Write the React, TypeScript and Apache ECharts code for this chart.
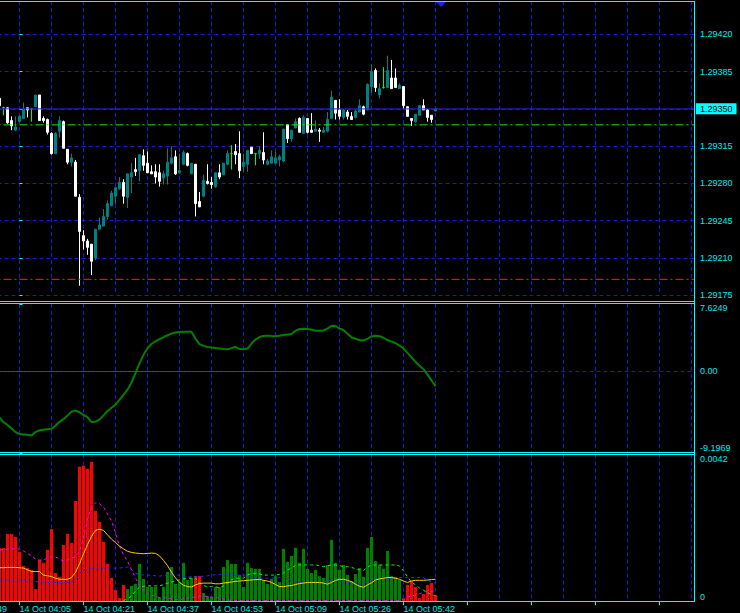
import React, { useEffect, useRef } from 'react';
import * as echarts from 'echarts';

// ---------- data (one value per M1 bar, oldest first) ----------
// x position of the first bar, counted in bars from the "14 Oct 04:05" tick
const FIRST_X = -5;

const OPEN = [
  1.29360, 1.29351, 1.29351, 1.29339, 1.29330, 1.29338, 1.29341, 1.29351, 1.29350, 1.29352,
  1.29363, 1.29341, 1.29340, 1.29327, 1.29308, 1.29329, 1.29338, 1.29312, 1.29300, 1.29300,
  1.29267, 1.29231, 1.29226, 1.29223, 1.29210, 1.29237, 1.29240, 1.29249, 1.29259, 1.29268,
  1.29275, 1.29281, 1.29267, 1.29286, 1.29293, 1.29292, 1.29306, 1.29299, 1.29291, 1.29291,
  1.29290, 1.29285, 1.29287, 1.29299, 1.29305, 1.29290, 1.29298, 1.29308, 1.29289, 1.29298,
  1.29263, 1.29268, 1.29282, 1.29281, 1.29277, 1.29290, 1.29288, 1.29298, 1.29308, 1.29310,
  1.29308, 1.29296, 1.29298, 1.29314, 1.29308, 1.29308, 1.29309, 1.29298, 1.29299, 1.29299,
  1.29302, 1.29301, 1.29335, 1.29322, 1.29332, 1.29341, 1.29327, 1.29341, 1.29330, 1.29329,
  1.29330, 1.29328, 1.29329, 1.29341, 1.29358, 1.29349, 1.29342, 1.29347, 1.29343, 1.29342,
  1.29347, 1.29352, 1.29349, 1.29371, 1.29386, 1.29363, 1.29370, 1.29370, 1.29379, 1.29379,
  1.29369, 1.29371, 1.29352, 1.29341, 1.29338, 1.29344, 1.29353, 1.29349, 1.29344, 1.29348,
];
const CLOSE = [
  1.29353, 1.29351, 1.29337, 1.29334, 1.29333, 1.29343, 1.29350, 1.29349, 1.29350, 1.29363,
  1.29339, 1.29339, 1.29328, 1.29308, 1.29327, 1.29339, 1.29313, 1.29300, 1.29304, 1.29268,
  1.29235, 1.29226, 1.29220, 1.29207, 1.29237, 1.29241, 1.29249, 1.29261, 1.29271, 1.29276,
  1.29281, 1.29268, 1.29289, 1.29290, 1.29291, 1.29307, 1.29297, 1.29290, 1.29289, 1.29286,
  1.29282, 1.29289, 1.29300, 1.29304, 1.29289, 1.29292, 1.29309, 1.29297, 1.29299, 1.29261,
  1.29258, 1.29283, 1.29280, 1.29279, 1.29290, 1.29286, 1.29299, 1.29308, 1.29308, 1.29307,
  1.29292, 1.29300, 1.29311, 1.29308, 1.29308, 1.29311, 1.29302, 1.29301, 1.29305, 1.29304,
  1.29305, 1.29331, 1.29322, 1.29330, 1.29338, 1.29328, 1.29342, 1.29328, 1.29328, 1.29331,
  1.29329, 1.29330, 1.29340, 1.29361, 1.29346, 1.29343, 1.29349, 1.29343, 1.29340, 1.29348,
  1.29353, 1.29345, 1.29373, 1.29385, 1.29370, 1.29369, 1.29370, 1.29386, 1.29369, 1.29370,
  1.29372, 1.29353, 1.29343, 1.29339, 1.29345, 1.29353, 1.29349, 1.29342, 1.29340, 1.29350,
];
const LOW = [
  1.29352, 1.29344, 1.29336, 1.29330, 1.29329, 1.29338, 1.29341, 1.29342, 1.29338, 1.29352,
  1.29339, 1.29337, 1.29326, 1.29307, 1.29308, 1.29323, 1.29313, 1.29298, 1.29296, 1.29268,
  1.29184, 1.29218, 1.29213, 1.29194, 1.29208, 1.29237, 1.29240, 1.29246, 1.29259, 1.29261,
  1.29274, 1.29261, 1.29257, 1.29271, 1.29287, 1.29282, 1.29292, 1.29290, 1.29289, 1.29280,
  1.29277, 1.29279, 1.29279, 1.29298, 1.29288, 1.29289, 1.29297, 1.29296, 1.29289, 1.29249,
  1.29258, 1.29267, 1.29279, 1.29275, 1.29276, 1.29284, 1.29288, 1.29297, 1.29293, 1.29298,
  1.29285, 1.29291, 1.29291, 1.29308, 1.29297, 1.29303, 1.29298, 1.29297, 1.29299, 1.29299,
  1.29296, 1.29300, 1.29318, 1.29319, 1.29332, 1.29328, 1.29327, 1.29327, 1.29328, 1.29329,
  1.29319, 1.29328, 1.29328, 1.29341, 1.29340, 1.29340, 1.29340, 1.29340, 1.29340, 1.29341,
  1.29347, 1.29344, 1.29349, 1.29365, 1.29366, 1.29360, 1.29369, 1.29370, 1.29369, 1.29370,
  1.29369, 1.29350, 1.29343, 1.29334, 1.29337, 1.29344, 1.29349, 1.29338, 1.29337, 1.29348,
];
const HIGH = [
  1.29361, 1.29352, 1.29351, 1.29343, 1.29343, 1.29344, 1.29356, 1.29351, 1.29351, 1.29363,
  1.29363, 1.29343, 1.29341, 1.29328, 1.29328, 1.29343, 1.29339, 1.29312, 1.29308, 1.29302,
  1.29270, 1.29236, 1.29228, 1.29223, 1.29237, 1.29248, 1.29256, 1.29264, 1.29273, 1.29276,
  1.29286, 1.29284, 1.29289, 1.29299, 1.29304, 1.29307, 1.29312, 1.29310, 1.29297, 1.29298,
  1.29298, 1.29292, 1.29313, 1.29315, 1.29311, 1.29308, 1.29311, 1.29309, 1.29299, 1.29298,
  1.29272, 1.29288, 1.29298, 1.29286, 1.29290, 1.29298, 1.29299, 1.29311, 1.29316, 1.29317,
  1.29329, 1.29308, 1.29311, 1.29314, 1.29308, 1.29315, 1.29328, 1.29303, 1.29311, 1.29310,
  1.29307, 1.29331, 1.29335, 1.29330, 1.29341, 1.29342, 1.29344, 1.29341, 1.29346, 1.29339,
  1.29332, 1.29333, 1.29347, 1.29367, 1.29358, 1.29359, 1.29349, 1.29349, 1.29347, 1.29349,
  1.29359, 1.29353, 1.29374, 1.29392, 1.29388, 1.29374, 1.29389, 1.29400, 1.29396, 1.29388,
  1.29374, 1.29371, 1.29352, 1.29341, 1.29345, 1.29353, 1.29359, 1.29350, 1.29344, 1.29350,
];

// oscillator sub-window
const OSC = [
  -5.18, -5.73, -6.03, -6.43, -6.83, -7.07, -7.11, -7.15, -7.23, -6.84,
  -6.64, -6.57, -6.51, -6.47, -6.13, -5.68, -5.38, -4.98, -4.53, -4.42,
  -4.60, -4.90, -5.16, -5.71, -5.66, -5.43, -4.96, -4.46, -4.09, -3.73,
  -3.20, -2.63, -2.06, -1.24, -0.19, 0.94, 1.88, 2.62, 3.10, 3.41,
  3.66, 3.87, 4.09, 4.28, 4.40, 4.46, 4.49, 4.49, 4.48, 3.69,
  3.10, 2.89, 2.76, 2.70, 2.65, 2.61, 2.55, 2.50, 2.64, 2.78,
  2.53, 2.50, 2.59, 3.15, 3.61, 3.89, 4.02, 4.05, 4.00, 3.97,
  4.04, 4.12, 4.17, 4.23, 4.59, 4.80, 4.82, 4.79, 4.71, 4.61,
  4.61, 4.61, 4.84, 5.16, 5.14, 4.83, 4.68, 4.25, 3.87, 3.70,
  3.53, 3.52, 3.68, 3.95, 4.03, 3.99, 3.81, 3.55, 3.37, 3.22,
  2.93, 2.59, 2.10, 1.59, 1.09, 0.66, 0.26, -0.36, -1.01, -1.67,
];

// histogram sub-window
const VOLUME = [
  0.00153, 0.00153, 0.00193, 0.00193, 0.00184, 0.00141, 0.00101, 0.00095, 0.00090, 0.00035,
  0.00118, 0.00110, 0.00147, 0.00207, 0.00081, 0.00070, 0.00161, 0.00193, 0.00167, 0.00287,
  0.00385, 0.00388, 0.00379, 0.00399, 0.00259, 0.00227, 0.00170, 0.00107, 0.00067, 0.00032,
  0.00009, 0.00047, 0.00035, 0.00044, 0.00050, 0.00107, 0.00064, 0.00041, 0.00041, 0.00041,
  0.00012, 0.00041, 0.00084, 0.00098, 0.00050, 0.00055, 0.00110, 0.00061, 0.00067, 0.00072,
  0.00072, 0.00024, 0.00015, 0.00012, 0.00041, 0.00041, 0.00098, 0.00118, 0.00107, 0.00107,
  0.00075, 0.00041, 0.00110, 0.00095, 0.00093, 0.00093, 0.00061, 0.00050, 0.00064, 0.00072,
  0.00055, 0.00150, 0.00113, 0.00130, 0.00153, 0.00110, 0.00150, 0.00093, 0.00081, 0.00090,
  0.00072, 0.00067, 0.00104, 0.00176, 0.00110, 0.00090, 0.00104, 0.00075, 0.00058, 0.00078,
  0.00095, 0.00070, 0.00153, 0.00184, 0.00115, 0.00104, 0.00093, 0.00144, 0.00072, 0.00070,
  0.00061, 0.00007, 0.00047, 0.00058, 0.00041, 0.00009, 0.00021, 0.00047, 0.00052, 0.00018,
];
// 1 = green histogram bar, 0 = red histogram bar
const VOLUME_UP = [
  0, 0, 0, 0, 0, 0, 0, 0, 0, 0,
  0, 0, 0, 0, 0, 0, 0, 0, 0, 0,
  0, 0, 0, 0, 0, 0, 0, 0, 0, 0,
  0, 0, 1, 1, 1, 1, 1, 1, 1, 1,
  1, 1, 1, 1, 1, 1, 1, 1, 1, 0,
  0, 1, 1, 1, 1, 1, 1, 1, 1, 1,
  1, 1, 1, 1, 1, 1, 1, 1, 1, 1,
  1, 1, 1, 1, 1, 1, 1, 1, 1, 1,
  1, 1, 1, 1, 1, 1, 1, 1, 1, 1,
  1, 1, 1, 1, 1, 1, 1, 1, 1, 1,
  1, 0, 0, 0, 0, 0, 0, 0, 0, 0,
];
const MA_YELLOW = [
  0.00096, 0.00096, 0.00097, 0.00097, 0.00097, 0.00096, 0.00095, 0.00090, 0.00085, 0.00085,
  0.00085, 0.00075, 0.00073, 0.00071, 0.00066, 0.00063, 0.00063, 0.00063, 0.00068, 0.00083,
  0.00107, 0.00136, 0.00162, 0.00186, 0.00203, 0.00206, 0.00203, 0.00190, 0.00178, 0.00168,
  0.00158, 0.00150, 0.00143, 0.00140, 0.00138, 0.00137, 0.00136, 0.00137, 0.00138, 0.00137,
  0.00130, 0.00117, 0.00102, 0.00083, 0.00067, 0.00054, 0.00046, 0.00042, 0.00041, 0.00047,
  0.00051, 0.00052, 0.00052, 0.00052, 0.00050, 0.00050, 0.00052, 0.00054, 0.00055, 0.00057,
  0.00058, 0.00059, 0.00060, 0.00061, 0.00062, 0.00063, 0.00060, 0.00058, 0.00054, 0.00048,
  0.00042, 0.00042, 0.00044, 0.00045, 0.00048, 0.00051, 0.00052, 0.00054, 0.00054, 0.00054,
  0.00054, 0.00052, 0.00049, 0.00054, 0.00060, 0.00063, 0.00063, 0.00060, 0.00056, 0.00049,
  0.00043, 0.00040, 0.00047, 0.00053, 0.00061, 0.00064, 0.00066, 0.00068, 0.00068, 0.00066,
  0.00063, 0.00058, 0.00054, 0.00058, 0.00060, 0.00060, 0.00060, 0.00061, 0.00062, 0.00063,
];
const MA_MAGENTA = [
  0.00147, 0.00148, 0.00149, 0.00150, 0.00150, 0.00150, 0.00144, 0.00137, 0.00130, 0.00121,
  0.00118, 0.00118, 0.00124, 0.00127, 0.00127, 0.00121, 0.00115, 0.00118, 0.00123, 0.00127,
  0.00144, 0.00181, 0.00236, 0.00270, 0.00282, 0.00279, 0.00270, 0.00250, 0.00230, 0.00196,
  0.00158, 0.00133, 0.00115, 0.00090, 0.00067, 0.00044, 0.00030, 0.00022, 0.00017, 0.00014,
  0.00011, 0.00010, 0.00009, 0.00007, 0.00005, 0.00004, 0.00007, 0.00009, 0.00011, 0.00012,
  0.00015, 0.00015, 0.00014, 0.00012, 0.00011, 0.00009, 0.00007, 0.00005, 0.00002, 0.00002,
  0.00002, 0.00002, 0.00002, 0.00002, 0.00002, 0.00002, 0.00002, 0.00002, 0.00002, 0.00002,
  0.00002, 0.00002, 0.00002, 0.00002, 0.00002, 0.00002, 0.00002, 0.00002, 0.00002, 0.00002,
  0.00002, 0.00002, 0.00002, 0.00002, 0.00002, 0.00002, 0.00002, 0.00002, 0.00002, 0.00002,
  0.00002, 0.00002, 0.00002, 0.00002, 0.00002, 0.00002, 0.00002, 0.00002, 0.00002, 0.00002,
  0.00002, 0.00007, 0.00012, 0.00016, 0.00017, 0.00021, 0.00027, 0.00028, 0.00028, 0.00028,
];
const MA_BLUE = [
  0.00061, 0.00061, 0.00061, 0.00061, 0.00061, 0.00061, 0.00060, 0.00057, 0.00056, 0.00056,
  0.00056, 0.00055, 0.00054, 0.00054, 0.00054, 0.00054, 0.00054, 0.00054, 0.00054, 0.00062,
  0.00075, 0.00090, 0.00091, 0.00094, 0.00095, 0.00095, 0.00095, 0.00095, 0.00095, 0.00095,
  0.00095, 0.00097, 0.00098, 0.00090, 0.00081, 0.00075, 0.00075, 0.00075, 0.00074, 0.00073,
  0.00072, 0.00074, 0.00075, 0.00077, 0.00077, 0.00074, 0.00071, 0.00070, 0.00070, 0.00070,
  0.00070, 0.00072, 0.00073, 0.00075, 0.00076, 0.00077, 0.00078, 0.00078, 0.00078, 0.00076,
  0.00075, 0.00075, 0.00074, 0.00066, 0.00066, 0.00066, 0.00066, 0.00066, 0.00066, 0.00067,
  0.00067, 0.00068, 0.00068, 0.00056, 0.00056, 0.00054, 0.00054, 0.00054, 0.00054, 0.00054,
  0.00054, 0.00054, 0.00060, 0.00061, 0.00061, 0.00058, 0.00054, 0.00054, 0.00054, 0.00052,
  0.00048, 0.00052, 0.00057, 0.00058, 0.00061, 0.00066, 0.00066, 0.00066, 0.00067, 0.00067,
  0.00068, 0.00068, 0.00068, 0.00068, 0.00068, 0.00068, 0.00067, 0.00061, 0.00055, 0.00052,
];
const MA_LIME: (number | null)[] = [
  null, null, null, null, null, null, null, null, null, null,
  null, null, null, null, null, null, null, null, null, null,
  null, null, null, null, null, null, null, null, null, null,
  null, 0.00002, 0.00007, 0.00015, 0.00030, 0.00041, 0.00043, 0.00044, 0.00044, 0.00044,
  0.00044, 0.00048, 0.00052, 0.00055, 0.00059, 0.00061, 0.00064, 0.00066, 0.00066, 0.00066,
  0.00052, 0.00045, 0.00042, 0.00042, 0.00042, 0.00038, 0.00044, 0.00052, 0.00062, 0.00066,
  0.00066, 0.00066, 0.00075, 0.00080, 0.00080, 0.00078, 0.00075, 0.00075, 0.00075, 0.00075,
  0.00077, 0.00081, 0.00090, 0.00095, 0.00103, 0.00104, 0.00104, 0.00104, 0.00104, 0.00104,
  0.00102, 0.00099, 0.00102, 0.00104, 0.00104, 0.00102, 0.00099, 0.00099, 0.00097, 0.00093,
  0.00090, 0.00088, 0.00098, 0.00104, 0.00104, 0.00104, 0.00104, 0.00104, 0.00104, 0.00104,
  0.00101, 0.00087, 0.00070, 0.00055, 0.00047, 0.00038, 0.00032, 0.00025, 0.00019, 0.00015,
];

// time axis labels (bar offsets from the 04:05 tick)
const TIME_TICKS = [-16, 0, 16, 32, 48, 64, 80, 96];
const TIME_LABELS = [
  '14 Oct 03:49', '14 Oct 04:05', '14 Oct 04:21', '14 Oct 04:37',
  '14 Oct 04:53', '14 Oct 05:09', '14 Oct 05:26', '14 Oct 05:42',
];

// price scale and horizontal levels
const PRICE_MIN = 1.29175;
const PRICE_MAX = 1.2945126;
const PRICE_STEP = 0.00035;
const BID = 1.2935;
const LEVEL_GREEN = 1.29335;
const LEVEL_RED = 1.2919;

const OSC_MIN = -9.1969;
const OSC_MAX = 7.6249;
const OSC_LEVEL = 0;
const HIST_MAX = 0.0042;

// ---------- styling ----------
const CYAN = '#00ffff';
const TXT = '#00eaea';
const GRID_C = '#1a1ad0';
const FONT = '"Liberation Sans", Arial, sans-serif';
const X_MIN = -16;
const X_MAX = 168.625;
const LAST_X = FIRST_X + OSC.length - 1;

const xSplitAxis = (gridIndex: number) => ({
  type: 'value',
  gridIndex,
  min: X_MIN,
  max: X_MAX,
  interval: 8,
  position: 'top',
  axisLine: { show: false },
  axisTick: { show: false },
  axisLabel: { show: false },
  splitLine: {
    show: true,
    showMinLine: false,
    showMaxLine: false,
    lineStyle: { color: GRID_C, type: [4, 3], width: 1 },
  },
});

const xy = (arr: (number | null)[]) => arr.map((v, i) => [FIRST_X + i, v]);

// a horizontal level drawn between two x positions of a window
const level = (
  axisIndex: number,
  value: number,
  color: string,
  type: any,
  z: number,
  extra: any = {},
  from: number = X_MIN
) => ({
  type: 'line',
  xAxisIndex: axisIndex,
  yAxisIndex: axisIndex,
  data: [
    [from, value],
    [X_MAX, value],
  ],
  showSymbol: false,
  silent: true,
  lineStyle: { color, type, width: 1 },
  z,
  ...extra,
});

export default function App() {
  const ref = useRef<HTMLDivElement>(null);

  useEffect(() => {
    if (!ref.current) return;
    const chart = echarts.init(ref.current, null, { renderer: 'svg' });

    const timeMap: Record<string, string> = {};
    TIME_TICKS.forEach((t, i) => (timeMap[String(t)] = TIME_LABELS[i]));

    const borderLine = (x1: number, y1: number, x2: number, y2: number) => ({
      type: 'line',
      z: 100,
      silent: true,
      shape: { x1, y1, x2, y2 },
      style: { stroke: CYAN, lineWidth: 1 },
    });

    const gridBase = { left: -44.5, right: 46, outerBoundsMode: 'none', containLabel: false };

    const option: any = {
      animation: false,
      backgroundColor: '#000000',
      textStyle: { fontFamily: FONT },
      grid: [
        { ...gridBase, top: 1, height: 294.3 },
        { ...gridBase, top: 303.96, height: 149 },
        { ...gridBase, top: 454.5, height: 146.8 },
      ],
      xAxis: [
        xSplitAxis(0),
        xSplitAxis(1),
        xSplitAxis(2),
        {
          type: 'value',
          gridIndex: 2,
          min: X_MIN,
          max: X_MAX,
          interval: 16,
          position: 'bottom',
          axisLine: { show: false },
          axisTick: { show: true, length: 4, lineStyle: { color: CYAN } },
          splitLine: { show: false },
          axisLabel: {
            show: true,
            showMinLabel: true,
            showMaxLabel: false,
            color: TXT,
            fontSize: 9,
            fontFamily: FONT,
            align: 'left',
            margin: 3,
            formatter: (v: number) => timeMap[String(Math.round(v))] ?? '',
          },
        },
      ],
      yAxis: [
        {
          type: 'value',
          gridIndex: 0,
          position: 'right',
          min: PRICE_MIN,
          max: PRICE_MAX,
          interval: PRICE_STEP,
          axisLine: { show: false },
          axisTick: { show: true, length: 3, lineStyle: { color: CYAN } },
          axisLabel: {
            color: TXT,
            fontSize: 9,
            fontFamily: FONT,
            margin: 6,
            formatter: (v: number) =>
              Math.abs(v - BID) < 1e-7 || v > PRICE_MAX - 1e-7 ? '' : v.toFixed(5),
          },
          splitLine: {
            show: true,
            showMinLine: true,
            showMaxLine: false,
            lineStyle: { color: GRID_C, type: [4, 3], width: 1 },
          },
        },
        {
          type: 'value',
          gridIndex: 1,
          position: 'right',
          min: OSC_MIN,
          max: OSC_MAX,
          interval: -OSC_MIN,
          axisLine: { show: false },
          axisTick: { show: true, length: 3, lineStyle: { color: CYAN } },
          axisLabel: {
            color: TXT,
            fontSize: 9,
            fontFamily: FONT,
            margin: 6,
            verticalAlignMaxLabel: 'top',
            verticalAlignMinLabel: 'bottom',
            formatter: (v: number) => (Math.abs(v) < 1e-9 ? '0.00' : v.toFixed(4)),
          },
          splitLine: { show: false },
        },
        {
          type: 'value',
          gridIndex: 2,
          position: 'right',
          min: 0,
          max: HIST_MAX,
          interval: HIST_MAX,
          axisLine: { show: false },
          axisTick: { show: true, length: 3, lineStyle: { color: CYAN } },
          axisLabel: {
            color: TXT,
            fontSize: 9,
            fontFamily: FONT,
            margin: 6,
            verticalAlignMaxLabel: 'top',
            verticalAlignMinLabel: 'bottom',
            formatter: (v: number) => (Math.abs(v) < 1e-12 ? '0' : v.toFixed(4)),
          },
          splitLine: {
            show: true,
            showMinLine: true,
            showMaxLine: false,
            lineStyle: { color: GRID_C, type: [4, 3], width: 1 },
          },
        },
      ],
      series: [
        {
          type: 'candlestick',
          xAxisIndex: 0,
          yAxisIndex: 0,
          barWidth: 2,
          encode: { x: 0, y: [1, 2, 3, 4] },
          data: OPEN.map((o, i) => [FIRST_X + i, o, CLOSE[i], LOW[i], HIGH[i]]),
          itemStyle: {
            color: '#008080',
            color0: '#ffffff',
            borderColor: '#008080',
            borderColor0: '#ffffff',
            borderColorDoji: '#00ff00',
            borderWidth: 1,
          },
          z: 2,
        },
        level(0, LEVEL_GREEN, '#1ee81e', [8, 3, 2, 3], 4),
        level(0, LEVEL_RED, '#ff2020', [8, 3, 2, 3], 4),
        level(0, BID, '#2424d8', 'solid', 4, {
          endLabel: {
            show: true,
            formatter: BID.toFixed(5),
            distance: 2,
            backgroundColor: CYAN,
            color: '#000000',
            padding: [1, 4, 1, 4],
            fontSize: 9,
            fontFamily: FONT,
          },
        }),
        // dashed zero level of the oscillator window, right of the last bar
        level(1, OSC_LEVEL, GRID_C, [4, 3], 1, {}, LAST_X),
        {
          type: 'line',
          xAxisIndex: 1,
          yAxisIndex: 1,
          data: OSC.map((_, i) => [FIRST_X + i, OSC_LEVEL]),
          showSymbol: false,
          lineStyle: { color: '#ff0000', width: 1, opacity: 1 },
          z: 6,
        },
        {
          type: 'line',
          xAxisIndex: 1,
          yAxisIndex: 1,
          data: xy(OSC),
          showSymbol: false,
          lineStyle: { color: '#008000', width: 2 },
          z: 7,
        },
        {
          type: 'bar',
          xAxisIndex: 2,
          yAxisIndex: 2,
          barWidth: 3,
          data: VOLUME.map((v, i) => ({
            value: [FIRST_X + i, v],
            itemStyle: { color: VOLUME_UP[i] ? '#008000' : '#ff0000' },
          })),
          z: 2,
        },
        {
          type: 'line',
          xAxisIndex: 2,
          yAxisIndex: 2,
          data: xy(MA_BLUE),
          showSymbol: false,
          lineStyle: { color: '#2a2aff', width: 1, type: [3, 3] },
          z: 3,
        },
        {
          type: 'line',
          xAxisIndex: 2,
          yAxisIndex: 2,
          data: xy(MA_LIME),
          showSymbol: false,
          lineStyle: { color: '#00ff00', width: 1, type: [3, 3] },
          z: 3,
        },
        {
          type: 'line',
          xAxisIndex: 2,
          yAxisIndex: 2,
          data: xy(MA_MAGENTA),
          showSymbol: false,
          lineStyle: { color: '#ff00ff', width: 1, type: [3, 3] },
          z: 4,
        },
        {
          type: 'line',
          xAxisIndex: 2,
          yAxisIndex: 2,
          data: xy(MA_YELLOW),
          showSymbol: false,
          lineStyle: { color: '#ffd000', width: 1 },
          z: 5,
        },
      ],
      graphic: [
        borderLine(0, 1.5, 694.5, 1.5),
        borderLine(0, 301.5, 694.5, 301.5),
        borderLine(0, 303.5, 694.5, 303.5),
        borderLine(0, 452.5, 694.5, 452.5),
        borderLine(0, 454.5, 694.5, 454.5),
        borderLine(0, 601.5, 694.5, 601.5),
        borderLine(694.5, 1, 694.5, 602),
        {
          type: 'polygon',
          z: 101,
          silent: true,
          shape: { points: [[436, 2], [446, 2], [441, 7]] },
          style: { fill: '#1c1cff' },
        },
      ],
    };

    chart.setOption(option);
    return () => chart.dispose();
  }, []);

  return (
    <div
      ref={ref}
      style={{ position: 'fixed', left: 0, top: 0, width: 740, height: 613, background: '#000' }}
    />
  );
}
